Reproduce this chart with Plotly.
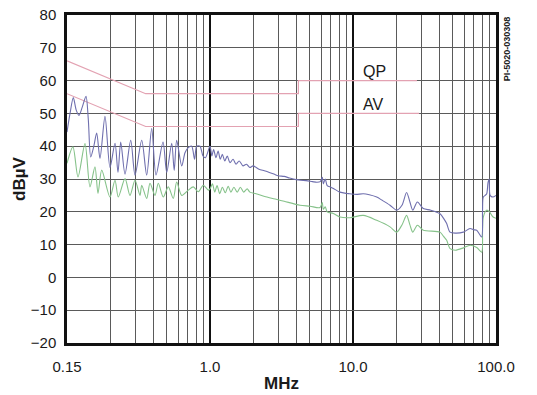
import plotly.graph_objects as go
import math

# ---------------- data ----------------
qp_freq = [0.1, 0.355, 4.15, 4.15, 28.0]
qp_level = [66, 56, 56, 60, 60]
av_freq = [0.1, 0.355, 4.15, 4.15, 29.0]
av_level = [56, 46, 46, 50, 50]

blue_freq = [0.100, 0.105, 0.1107, 0.116, 0.1213, 0.128, 0.1358, 0.141, 0.1465, 0.154,
             0.1613, 0.1701, 0.1844, 0.1998, 0.2166, 0.2273, 0.2375, 0.2545, 0.2790, 0.2990,
             0.3330, 0.3609, 0.3911, 0.4193, 0.4693, 0.4981, 0.5397, 0.5620, 0.5849, 0.6341,
             0.6686, 0.7019, 0.7447, 0.7800, 0.8072, 0.8513, 0.8933, 0.9300, 1.00,
             1.03, 1.06, 1.10, 1.14, 1.18, 1.22, 1.27, 1.32, 1.38, 1.45, 1.52, 1.60, 1.70,
             1.80, 1.90, 2.00, 2.20, 2.40, 2.60, 2.80, 3.00, 3.30, 3.60, 4.00, 4.30, 4.70,
             5.20, 5.60, 5.90, 6.10, 6.20, 6.40, 6.60, 7.00, 7.30, 8.10, 9.00, 9.50, 10.5,
             11.8, 13.0, 14.65, 16.0, 18.15, 20.2, 22.0, 23.7, 25.0, 26.2, 28.2, 31.0, 35.0,
             40.6, 43.0, 45.2, 47.7, 52.0, 59.1, 65.8, 70.0, 73.3, 79.4, 80.5, 81.5, 84.0,
             86.1, 88.0, 89.5, 91.0, 95.0, 100.0]
blue_level = [44.3, 50.0, 54.8, 51.0, 49.4, 52.0, 55.2, 48.0, 36.7, 40.0,
              44.0, 36.3, 49.1, 33.5, 40.9, 32.0, 41.3, 31.5, 41.8, 31.2,
              41.8, 31.2, 45.4, 31.2, 41.3, 32.0, 40.9, 32.6, 41.8, 34.0,
              38.0, 39.5, 40.0, 36.0, 40.0, 40.0, 37.0, 36.5, 40.0,
              37.0, 39.0, 36.5, 38.5, 36.0, 37.5, 35.5, 37.0, 35.0, 36.0, 34.5, 35.5, 34.0,
              34.5, 33.5, 34.0, 33.0, 32.5, 32.0, 31.5, 31.0, 30.8, 30.3, 29.8, 29.6, 29.5,
              29.2, 29.0, 29.2, 30.5, 28.5, 30.0, 28.0, 27.5, 27.1, 26.0, 25.6, 25.5, 25.3,
              25.5, 25.2, 24.5, 23.5, 22.0, 20.5, 22.0, 25.9, 23.0, 20.5, 23.0, 21.0, 20.5,
              19.4, 18.0, 16.4, 13.8, 13.5, 13.8, 14.9, 14.5, 14.4, 12.3, 20.0, 24.5, 25.0,
              25.5, 29.0, 30.0, 25.0, 24.5, 25.0]

green_freq = [0.100, 0.110, 0.1194, 0.1336, 0.1448, 0.1569, 0.1647, 0.1749, 0.1998, 0.2166,
              0.2284, 0.2545, 0.2758, 0.2989, 0.3240, 0.3330, 0.3609, 0.3806, 0.4124, 0.4349,
              0.4714, 0.5109, 0.5538, 0.5849, 0.6341, 0.7050, 0.7642, 0.8284, 0.8978, 0.9730,
              1.00, 1.04, 1.08, 1.12, 1.17, 1.22, 1.28, 1.34, 1.40, 1.47, 1.55, 1.63, 1.72,
              1.82, 1.90, 2.10, 2.50, 2.90, 3.30, 4.26, 5.00, 5.88, 6.10, 6.20, 6.40, 6.60,
              7.28, 8.12, 9.53, 11.8, 14.65, 18.15, 20.2, 22.0, 23.7, 25.0, 26.2, 28.2, 31.0,
              40.6, 43.0, 45.2, 47.7, 52.0, 59.1, 65.8, 73.3, 79.4, 80.5, 81.5, 86.0, 90.0,
              95.0, 100.0]
green_level = [34.8, 39.8, 30.6, 40.8, 27.6, 33.7, 25.6, 32.7, 24.5, 29.6,
               24.5, 30.1, 25.0, 29.6, 25.0, 28.1, 24.1, 28.7, 25.0, 28.7,
               24.5, 27.6, 24.1, 29.1, 25.0, 26.6, 27.6, 26.1, 28.1, 26.6,
               27.0, 28.5, 26.0, 28.0, 25.5, 27.5, 25.8, 27.8, 26.0, 27.5, 26.0, 27.5, 26.0,
               27.0, 26.0, 25.5, 24.5, 23.8, 23.2, 22.0, 21.7, 21.3, 22.8, 20.8, 21.5, 20.0,
               19.5, 18.4, 18.2, 18.9, 17.4, 15.4, 13.8, 16.0, 18.9, 16.0, 13.8, 15.9, 14.4,
               13.8, 12.5, 11.3, 8.8, 8.3, 9.0, 9.8, 9.1, 7.7, 14.0, 18.4, 20.5, 20.0,
               18.5, 18.0]

x_tick_vals = [0.1, 1, 10, 100]
x_tick_text = ["0.15", "1.0", "10.0", "100.0"]
x_minor_vals = [m * d for d in (0.1, 1, 10) for m in range(2, 10)]
y_tick_vals = list(range(-20, 81, 10))

# ---------------- figure ----------------
FONT = "Arial, Liberation Sans, Helvetica, sans-serif"
fig = go.Figure()

fig.add_trace(go.Scatter(x=qp_freq, y=qp_level, mode="lines",
                         line=dict(color="#e3a2b2", width=1.2), hoverinfo="skip"))
fig.add_trace(go.Scatter(x=av_freq, y=av_level, mode="lines",
                         line=dict(color="#e3a2b2", width=1.2), hoverinfo="skip"))
fig.add_trace(go.Scatter(x=green_freq, y=green_level, mode="lines",
                         line=dict(color="#86c28a", width=1.1, shape="spline", smoothing=0.8)))
fig.add_trace(go.Scatter(x=blue_freq, y=blue_level, mode="lines",
                         line=dict(color="#6f6fae", width=1.1, shape="spline", smoothing=0.8)))

# page body has an 8px margin: the figure is shifted by (8, 8) in the window
fig.update_layout(
    width=529, height=387,
    margin=dict(l=59, r=41, t=7, b=52),
    paper_bgcolor="white", plot_bgcolor="white",
    showlegend=False,
    font=dict(family=FONT, size=15, color="#1a1a1a"),
)

fig.update_xaxes(
    type="log", range=[-1, 2], automargin=False, ticklabeloverflow="allow",
    tickvals=x_tick_vals, ticktext=x_tick_text,
    ticks="outside", ticklen=8, tickcolor="rgba(0,0,0,0)",
    showgrid=True, gridcolor="#111111", gridwidth=1.8,
    minor=dict(tickvals=x_minor_vals, showgrid=True, gridcolor="#5a5a5a",
               gridwidth=1, ticks=""),
    showline=True, linecolor="#111111", linewidth=2.5, mirror=True,
    zeroline=False, tickfont=dict(size=15),
)
fig.update_yaxes(
    range=[-20, 80], tickvals=y_tick_vals, automargin=False, ticklabeloverflow="allow",
    ticks="outside", ticklen=5, tickcolor="rgba(0,0,0,0)",
    showgrid=True, gridcolor="#5a5a5a", gridwidth=1,
    showline=True, linecolor="#111111", linewidth=2.5, mirror=True,
    zeroline=False, tickfont=dict(size=15),
)

# labels
fig.add_annotation(x=math.log10(14.2), y=62.8, xref="x", yref="y", text="QP",
                   showarrow=False, font=dict(size=16, family=FONT, color="#1a1a1a"))
fig.add_annotation(x=math.log10(13.9), y=52.8, xref="x", yref="y", text="AV",
                   showarrow=False, font=dict(size=16, family=FONT, color="#1a1a1a"))
fig.add_annotation(x=-0.112, y=0.5, xref="paper", yref="paper", text="<b>dBµV</b>",
                   textangle=-90, showarrow=False, xanchor="center", yanchor="middle",
                   font=dict(size=17, family=FONT, color="#1a1a1a"))
fig.add_annotation(x=0.5, y=-0.123, xref="paper", yref="paper", text="<b>MHz</b>",
                   showarrow=False, xanchor="center", yanchor="middle",
                   font=dict(size=17, family=FONT, color="#1a1a1a"))
fig.add_annotation(x=1.0256, y=0.8985, xref="paper", yref="paper", text="<b>PI-5020-030308</b>",
                   textangle=-90, showarrow=False, xanchor="center", yanchor="middle",
                   font=dict(size=9, family=FONT, color="#1a1a1a"))

fig.write_html("out.html")
